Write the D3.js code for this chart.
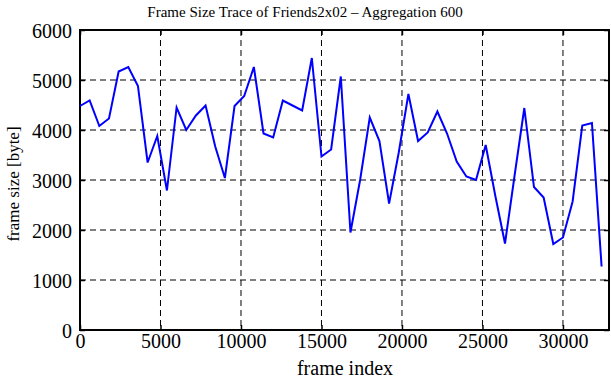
<!DOCTYPE html>
<html>
<head>
<meta charset="utf-8">
<script src="https://cdn.jsdelivr.net/npm/d3@7"></script>
<style>
  body { margin: 0; background: #fff; }
  svg text { font-family: "Liberation Serif", "Times New Roman", serif; fill: #000; }
</style>
</head>
<body>
<div id="chart"></div>
<script>
// frame index of each aggregated point (step 600)
const frameIndex = d3.range(0, 32401, 600);
// mean frame size [byte] per window of 600 frames
const frameSize = [
  4480, 4590, 4080, 4230, 5170, 5260, 4880, 3350, 3880, 2790,
  4450, 4000, 4290, 4490, 3670, 3040, 4480, 4680, 5260, 3930,
  3850, 4590, 4490, 4390, 5440, 3470, 3610, 5070, 1950, 3000,
  4250, 3780, 2530, 3550, 4720, 3780, 3950, 4370, 3930, 3370,
  3070, 3000, 3700, 2680, 1730, 3100, 4440, 2860, 2650, 1720,
  1850, 2570, 4090, 4140, 1270
];
const xTicks = [0, 5000, 10000, 15000, 20000, 25000, 30000];
const yTicks = [0, 1000, 2000, 3000, 4000, 5000, 6000];
const xMax = 32860;

const W = 611, H = 380;
const margin = { top: 30, right: 2, bottom: 50, left: 80 };
const width = W - margin.left - margin.right;
const height = H - margin.top - margin.bottom;

const svg = d3.select('#chart').append('svg')
  .attr('width', W)
  .attr('height', H);

const g = svg.append('g')
  .attr('transform', `translate(${margin.left},${margin.top})`);

const x = d3.scaleLinear().domain([0, xMax]).range([0, width]);
const y = d3.scaleLinear().domain([0, 6000]).range([height, 0]);

// dashed grid
g.append('g').selectAll('line')
  .data(xTicks.filter(d => d > 0))
  .join('line')
  .attr('x1', d => x(d)).attr('x2', d => x(d))
  .attr('y1', 0).attr('y2', height)
  .attr('stroke', '#000').attr('stroke-width', 1)
  .attr('stroke-dasharray', '6,4');

g.append('g').selectAll('line')
  .data(yTicks.filter(d => d > 0 && d < 6000))
  .join('line')
  .attr('x1', 0).attr('x2', width)
  .attr('y1', d => y(d)).attr('y2', d => y(d))
  .attr('stroke', '#000').attr('stroke-width', 1)
  .attr('stroke-dasharray', '6,4');

// axes with inward ticks
const fmt = d3.format('d');
const xAxis = g.append('g')
  .attr('transform', `translate(0,${height})`)
  .call(d3.axisBottom(x).tickValues(xTicks).tickFormat(fmt).tickSizeInner(-5).tickSizeOuter(0).tickPadding(4));
const yAxis = g.append('g')
  .call(d3.axisLeft(y).tickValues(yTicks).tickFormat(fmt).tickSizeInner(-5).tickSizeOuter(0).tickPadding(8));
g.append('g')
  .attr('transform', `translate(${width},0)`)
  .call(d3.axisRight(y).tickValues(yTicks).tickSizeInner(-5).tickSizeOuter(0).tickFormat(''));
g.append('g')
  .call(d3.axisTop(x).tickValues(xTicks).tickSizeInner(-5).tickSizeOuter(0).tickFormat(''));

g.selectAll('.domain').remove();
g.selectAll('.tick line').attr('stroke', '#000').attr('stroke-width', 1.5);
g.selectAll('.tick text')
  .style('font-family', '"Liberation Serif", "Times New Roman", serif')
  .style('font-size', '20px');
xAxis.selectAll('.tick text').attr('dy', '0.72em');
yAxis.selectAll('.tick text').attr('dy', '0.38em');

// frame
g.append('rect')
  .attr('width', width).attr('height', height)
  .attr('fill', 'none').attr('stroke', '#000').attr('stroke-width', 2);

// trace
const line = d3.line()
  .x((d, i) => x(frameIndex[i]))
  .y(d => y(d));

g.append('path')
  .datum(frameSize)
  .attr('fill', 'none')
  .attr('stroke', '#0000ff')
  .attr('stroke-width', 2)
  .attr('d', line);

// labels
svg.append('text')
  .attr('x', 305).attr('y', 17)
  .attr('text-anchor', 'middle')
  .style('font-size', '15px')
  .text('Frame Size Trace of Friends2x02 \u2013 Aggregation 600');

svg.append('text')
  .attr('x', 345).attr('y', 375)
  .attr('text-anchor', 'middle')
  .style('font-size', '20px')
  .text('frame index');

svg.append('text')
  .attr('transform', `translate(19,184) rotate(-90)`)
  .attr('text-anchor', 'middle')
  .style('font-size', '17px')
  .text('frame size [byte]');
</script>
</body>
</html>
